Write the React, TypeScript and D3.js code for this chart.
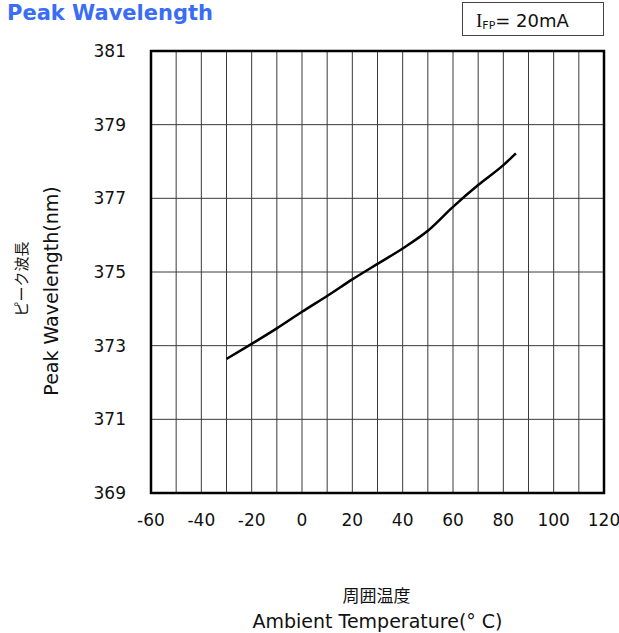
import React from "react"
import * as d3 from "d3"

// data
const temperatures = [-30, -20, -10, 0, 10, 20, 30, 40, 50, 60, 70, 80, 85]
const wavelengths = [372.64, 373.05, 373.47, 373.92, 374.35, 374.8, 375.22, 375.64, 376.12, 376.77, 377.36, 377.9, 378.22]
const xTicks = [-60, -40, -20, 0, 20, 40, 60, 80, 100, 120]
const xGrid = d3.range(-60, 121, 10)
const yTicks = [369, 371, 373, 375, 377, 379, 381]

const W = 619
const H = 633
const plot = { left: 151, right: 604, top: 51, bottom: 493 }
const latin = "'DejaVu Sans', Verdana, sans-serif"
const cjk = "'Noto Sans CJK JP', sans-serif"

export default function App() {
  const x = d3.scaleLinear().domain([-60, 120]).range([plot.left, plot.right])
  const y = d3.scaleLinear().domain([369, 381]).range([plot.bottom, plot.top])

  const line = d3
    .line<number>()
    .x((_, i) => x(temperatures[i]))
    .y((d) => y(d))
    .curve(d3.curveMonotoneX)

  const cy = (plot.top + plot.bottom) / 2
  const cx = (plot.left + plot.right) / 2

  return (
    <svg width={W} height={H} style={{ position: "absolute", left: 0, top: 0, background: "#fff" }}>
      {/* title */}
      <text x={7} y={20} fontFamily={latin} fontWeight="bold" fontSize={21} fill="#3b6cf6">
        Peak Wavelength
      </text>

      {/* condition box */}
      <rect x={462.5} y={2.5} width={141} height={33} fill="none" stroke="#444" strokeWidth={1} />
      <text x={476} y={27} fill="#111">
        <tspan fontFamily="'Liberation Serif', serif" fontSize={19}>I</tspan>
        <tspan fontFamily={latin} fontSize={11} dy={2}>FP</tspan>
        <tspan fontFamily={latin} fontSize={18} dy={-2}>= 20mA</tspan>
      </text>

      {/* grid */}
      {xGrid.map((t) => (
        <line key={"gx" + t} x1={x(t)} x2={x(t)} y1={plot.top} y2={plot.bottom} stroke="#3a3a3a" strokeWidth={1} />
      ))}
      {yTicks.map((t) => (
        <line key={"gy" + t} x1={plot.left} x2={plot.right} y1={y(t)} y2={y(t)} stroke="#3a3a3a" strokeWidth={1} />
      ))}
      <rect
        x={plot.left}
        y={plot.top}
        width={plot.right - plot.left}
        height={plot.bottom - plot.top}
        fill="none"
        stroke="#000"
        strokeWidth={2.5}
      />

      {/* curve */}
      <path d={line(wavelengths) || ""} fill="none" stroke="#000" strokeWidth={2.5} />

      {/* tick labels */}
      {yTicks.map((t) => (
        <text key={"ty" + t} x={plot.left - 25} y={y(t) + 6} textAnchor="end" fontFamily={latin} fontSize={17} fill="#111">
          {t}
        </text>
      ))}
      {xTicks.map((t) => (
        <text key={"tx" + t} x={x(t)} y={526} textAnchor="middle" fontFamily={latin} fontSize={17} fill="#111">
          {t}
        </text>
      ))}

      {/* axis titles */}
      <text x={cx - 1} y={602} textAnchor="middle" fontFamily={cjk} fontSize={17} fill="#111">
        周囲温度
      </text>
      <text x={cx} y={628} textAnchor="middle" fontFamily={latin} fontSize={19} fill="#111">
        Ambient Temperature(° C)
      </text>
      <text transform={`translate(27,${cy + 7}) rotate(-90)`} textAnchor="middle" fontFamily={cjk} fontSize={15} fill="#111">
        ピーク波長
      </text>
      <text transform={`translate(58,${cy + 19}) rotate(-90)`} textAnchor="middle" fontFamily={latin} fontSize={19} fill="#111">
        Peak Wavelength(nm)
      </text>
    </svg>
  )
}
